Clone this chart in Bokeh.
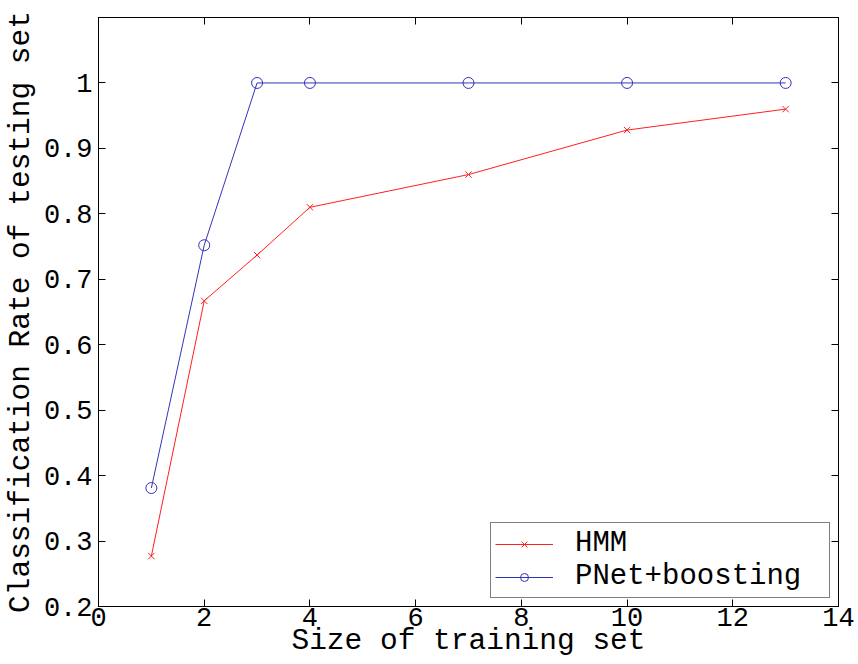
from bokeh.plotting import figure
from bokeh.models import Range1d, FixedTicker, LinearAxis, Legend, LegendItem
from bokeh.embed import file_html
from bokeh.resources import INLINE

train_size = [1, 2, 3, 4, 7, 10, 13]
hmm_rate = [0.277, 0.667, 0.737, 0.810, 0.860, 0.928, 0.960]
pnet_rate = [0.381, 0.752, 1.0, 1.0, 1.0, 1.0, 1.0]
x_ticks = [0, 2, 4, 6, 8, 10, 12, 14]
y_ticks = [0.2, 0.3, 0.4, 0.5, 0.6, 0.7, 0.8, 0.9, 1.0]

FONT = "Liberation Mono"
RED = "#ff2020"
BLUE = "#3333bb"

p = figure(width=858, height=664, output_backend="svg", toolbar_location=None,
           x_range=Range1d(0, 14), y_range=Range1d(0.2, 1.1),
           min_border_left=97, min_border_right=20, min_border_top=17, min_border_bottom=58)
p.grid.visible = False
p.outline_line_color = "black"
p.outline_line_width = 1
p.background_fill_color = "white"
p.border_fill_color = "white"

def style_axis(ax, size):
    ax.axis_line_color = "black"
    ax.major_tick_line_color = "black"
    ax.major_tick_in = 7
    ax.major_tick_out = 0
    ax.minor_tick_line_color = None
    ax.major_label_text_font = FONT
    ax.major_label_text_font_size = size
    ax.major_label_text_color = "black"
    ax.axis_label_text_font = FONT
    ax.axis_label_text_font_size = "29.5px"
    ax.axis_label_text_font_style = "normal"
    ax.axis_label_text_color = "black"

xa = p.xaxis[0]
ya = p.yaxis[0]
xa.ticker = FixedTicker(ticks=x_ticks)
ya.ticker = FixedTicker(ticks=y_ticks)
ya.major_label_overrides = {1.0: "1"}
style_axis(xa, "27px")
style_axis(ya, "27px")
xa.axis_label = "Size of training set"
ya.axis_label = "Classification Rate of testing set"
xa.major_label_standoff = 1
xa.axis_label_standoff = -5
ya.major_label_standoff = 6
ya.axis_label_standoff = 3

top = LinearAxis(ticker=FixedTicker(ticks=x_ticks))
right = LinearAxis(ticker=FixedTicker(ticks=y_ticks))
for ax in (top, right):
    style_axis(ax, "0px")
    ax.major_label_standoff = 0
    ax.major_label_text_alpha = 0
p.add_layout(top, "above")
p.add_layout(right, "right")

r1 = p.line(train_size, hmm_rate, line_color=RED, line_width=1)
m1 = p.scatter(train_size, hmm_rate, marker="x", size=9, line_color=RED, line_width=1)
r2 = p.line(train_size, pnet_rate, line_color=BLUE, line_width=1)
m2 = p.scatter(train_size, pnet_rate, marker="circle", size=11, line_color=BLUE,
               fill_color=None, line_width=1)

legend = Legend(items=[LegendItem(label="HMM", renderers=[r1, m1]),
                       LegendItem(label="PNet+boosting", renderers=[r2, m2])],
                location="bottom_right")
legend.label_text_font = FONT
legend.label_text_font_size = "29px"
legend.label_text_color = "black"
legend.glyph_width = 58
legend.glyph_height = 20
legend.label_height = 20
legend.label_standoff = 22
legend.label_width = 250
legend.padding = 4
legend.spacing = -4
legend.margin = 8
legend.border_line_color = "black"
legend.border_line_width = 1
legend.background_fill_color = "white"
legend.background_fill_alpha = 1
p.add_layout(legend, "center")

open("out.html", "w").write(file_html(p, INLINE))
